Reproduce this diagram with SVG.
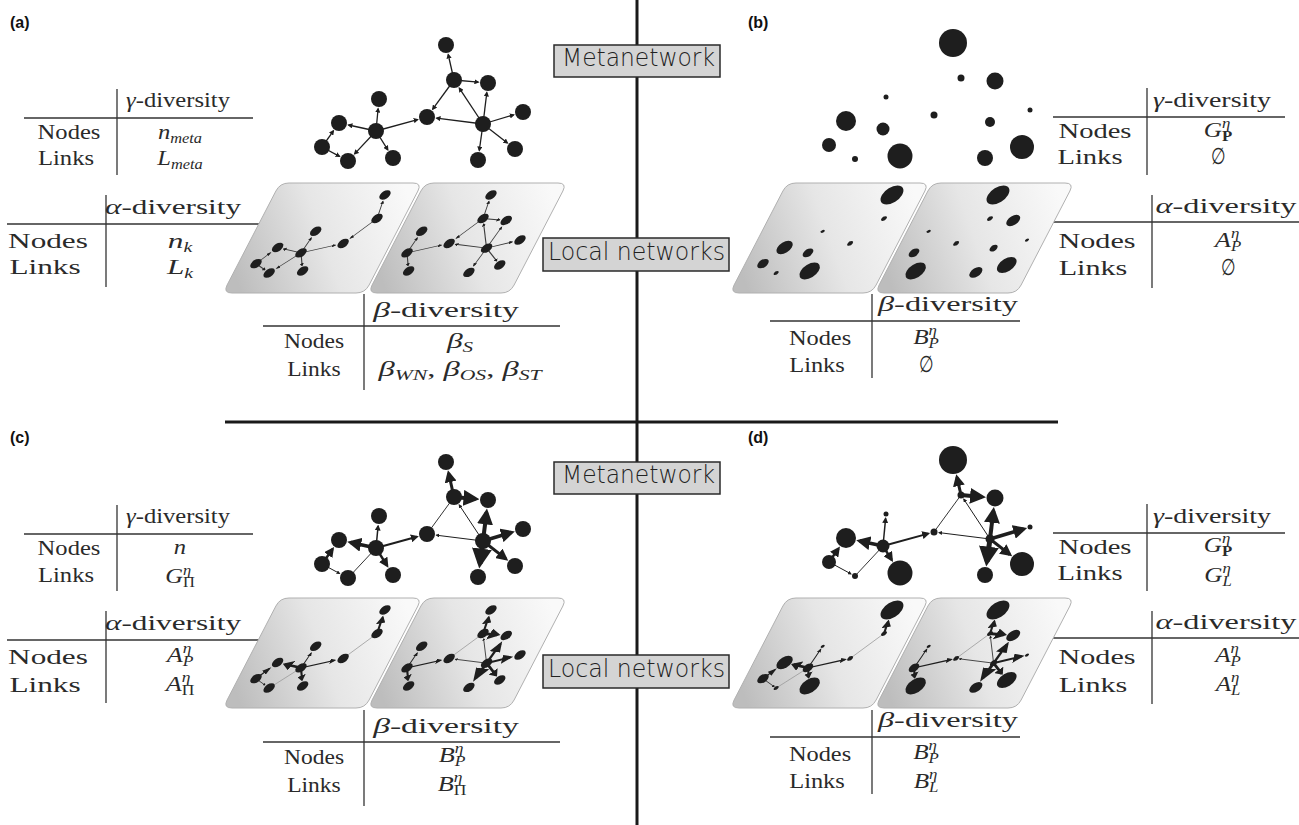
<svg xmlns="http://www.w3.org/2000/svg" xmlns:xlink="http://www.w3.org/1999/xlink" width="1299" height="825" viewBox="0 0 1299 825">
<style>
.ln{stroke:#1e1e1e;fill:none}
.lw{stroke:#3a3a3a;fill:none}
.fa{stroke:#9a9a9a;fill:none}
.nd{fill:#1e1e1e}
.tl{stroke:#333;stroke-width:1.3;fill:none}
.dv{stroke:#1a1a1a;stroke-width:3}
.tb{font-family:"Liberation Serif","DejaVu Serif",serif;font-size:21px;fill:#2a2a2a}
.th{font-size:22px}
.i{font-style:italic}
.sm{font-size:14px}
.lb{font-family:"DejaVu Sans",sans-serif;font-weight:200;fill:#222}
.bx{fill:#d4d4d4;stroke:#2a2a2a;stroke-width:1.5}
.pl{font-family:"Liberation Sans",Arial,sans-serif;font-weight:bold;font-size:16px;fill:#111}
.es{font-family:"DejaVu Serif",serif;font-size:21px;fill:#2a2a2a}
</style>
<defs>
<marker id="ah" viewBox="0 0 10 10" refX="7.5" refY="5" markerWidth="4" markerHeight="4" orient="auto"><path d="M0,0 L10,5 L0,10 Z" fill="#1e1e1e"/></marker>
<linearGradient id="pg" x1="0" y1="0.6" x2="1" y2="0.4"><stop offset="0" stop-color="#bdbdbd"/><stop offset="0.5" stop-color="#e6e6e6"/><stop offset="1" stop-color="#f9f9f9"/></linearGradient>
<path id="plL" d="M289,183 L413,183 Q422,183 417.9,191 L369.1,285 Q365,293 356,293 L232,293 Q223,293 227.1,285 L275.9,191 Q280,183 289,183 Z" fill="url(#pg)" stroke="#b0b0b0" stroke-width="1"/>
<path id="plR" d="M434,183 L558,183 Q567,183 562.9,191 L514.1,285 Q510,293 501,293 L377,293 Q368,293 372.1,285 L420.9,191 Q425,183 434,183 Z" fill="url(#pg)" stroke="#b0b0b0" stroke-width="1"/>
</defs>
<rect width="1299" height="825" fill="#fff"/>

<!-- dividers -->
<line class="dv" x1="637" y1="0" x2="637" y2="825"/>
<line class="dv" x1="225" y1="422" x2="1058" y2="422"/>

<!-- panel labels -->
<text class="pl" x="10" y="28">(a)</text>
<text class="pl" x="748" y="28">(b)</text>
<text class="pl" x="10" y="443">(c)</text>
<text class="pl" x="748" y="443">(d)</text>

<!-- ===== TABLES (a) ===== -->
<g id="tables-a">
<line class="tl" x1="117" y1="89" x2="117" y2="175"/><line class="tl" x1="24" y1="118" x2="253" y2="118"/>
<text class="tb" text-anchor="middle" transform="translate(178,107) scale(1.17,1)"><tspan class="i">γ</tspan>-diversity</text>
<text class="tb" text-anchor="middle" transform="translate(69,139) scale(1.17,1)">Nodes</text>
<text class="tb" text-anchor="middle" transform="translate(66,165) scale(1.17,1)">Links</text>
<text class="tb" text-anchor="middle" transform="translate(180,139) scale(1.17,1)"><tspan class="i">n</tspan><tspan class="i sm" dy="4">meta</tspan></text>
<text class="tb" text-anchor="middle" transform="translate(180,165) scale(1.17,1)"><tspan class="i">L</tspan><tspan class="i sm" dy="4">meta</tspan></text>
<line class="tl" x1="106" y1="195" x2="106" y2="287"/><line class="tl" x1="7" y1="224" x2="262" y2="224"/>
<text class="tb th" text-anchor="middle" transform="translate(173,214) scale(1.42,1)"><tspan class="i">α</tspan>-diversity</text>
<text class="tb th" text-anchor="middle" transform="translate(48,248) scale(1.42,1)">Nodes</text>
<text class="tb th" text-anchor="middle" transform="translate(45,274) scale(1.42,1)">Links</text>
<text class="tb th" text-anchor="middle" transform="translate(180,248) scale(1.42,1)"><tspan class="i">n</tspan><tspan class="i sm" dy="4">k</tspan></text>
<text class="tb th" text-anchor="middle" transform="translate(180,274) scale(1.42,1)"><tspan class="i">L</tspan><tspan class="i sm" dy="4">k</tspan></text>
<line class="tl" x1="364" y1="294" x2="364" y2="390"/><line class="tl" x1="263" y1="326" x2="560" y2="326"/>
<text class="tb th" text-anchor="middle" transform="translate(446,317) scale(1.53,1)"><tspan class="i">β</tspan>-diversity</text>
<text class="tb" text-anchor="middle" transform="translate(314,348) scale(1.12,1)">Nodes</text>
<text class="tb" text-anchor="middle" transform="translate(314,376) scale(1.12,1)">Links</text>
<text class="tb" text-anchor="middle" transform="translate(460,348) scale(1.5,1)"><tspan class="i">β</tspan><tspan class="i sm" dy="4">S</tspan></text>
<text class="tb" text-anchor="middle" transform="translate(460,376) scale(1.55,1)"><tspan class="i">β</tspan><tspan class="i sm" dy="4">WN</tspan><tspan dy="-4">, </tspan><tspan class="i">β</tspan><tspan class="i sm" dy="4">OS</tspan><tspan dy="-4">, </tspan><tspan class="i">β</tspan><tspan class="i sm" dy="4">ST</tspan></text>
</g>

<!-- ===== TABLES (b) ===== -->
<g id="tables-b">
<line class="tl" x1="1147" y1="88" x2="1147" y2="175"/><line class="tl" x1="1053" y1="117" x2="1285" y2="117"/>
<text class="tb" text-anchor="middle" transform="translate(1212,107) scale(1.33,1)"><tspan class="i">γ</tspan>-diversity</text>
<text class="tb" text-anchor="middle" transform="translate(1095,138) scale(1.36,1)">Nodes</text>
<text class="tb" text-anchor="middle" transform="translate(1090,164) scale(1.36,1)">Links</text>
<text class="tb" text-anchor="middle" transform="translate(1218,137) scale(1.2,1)"><tspan class="i">G</tspan><tspan class="i sm" dy="-9">η</tspan><tspan class="sm" font-weight="bold" dx="-7" dy="13">P</tspan></text>
<text class="es" text-anchor="middle" transform="translate(1218,164) scale(0.8,1.1)">∅</text>
<line class="tl" x1="1152" y1="195" x2="1152" y2="288"/><line class="tl" x1="1050" y1="222" x2="1299" y2="222"/>
<text class="tb th" text-anchor="middle" transform="translate(1226,213) scale(1.47,1)"><tspan class="i">α</tspan>-diversity</text>
<text class="tb th" text-anchor="middle" transform="translate(1097,248) scale(1.37,1)">Nodes</text>
<text class="tb th" text-anchor="middle" transform="translate(1093,275) scale(1.37,1)">Links</text>
<text class="tb th" text-anchor="middle" transform="translate(1228,247) scale(1.2,1)"><tspan class="i">A</tspan><tspan class="i sm" dy="-9">η</tspan><tspan class="i sm" dx="-7" dy="13">P</tspan></text>
<text class="es" text-anchor="middle" transform="translate(1228,275) scale(0.8,1.1)">∅</text>
<line class="tl" x1="872" y1="294" x2="872" y2="378"/><line class="tl" x1="770" y1="321" x2="1020" y2="321"/>
<text class="tb th" text-anchor="middle" transform="translate(948,311) scale(1.47,1)"><tspan class="i">β</tspan>-diversity</text>
<text class="tb" text-anchor="middle" transform="translate(820,345) scale(1.16,1)">Nodes</text>
<text class="tb" text-anchor="middle" transform="translate(817,372) scale(1.16,1)">Links</text>
<text class="tb" text-anchor="middle" transform="translate(926,344) scale(1.2,1)"><tspan class="i">B</tspan><tspan class="i sm" dy="-9">η</tspan><tspan class="i sm" dx="-7" dy="13">P</tspan></text>
<text class="es" text-anchor="middle" transform="translate(926,372) scale(0.8,1.1)">∅</text>
</g>

<!-- ===== TABLES (c) ===== -->
<g id="tables-c" transform="translate(0,416)">
<line class="tl" x1="117" y1="89" x2="117" y2="175"/><line class="tl" x1="24" y1="118" x2="253" y2="118"/>
<text class="tb" text-anchor="middle" transform="translate(178,107) scale(1.17,1)"><tspan class="i">γ</tspan>-diversity</text>
<text class="tb" text-anchor="middle" transform="translate(69,139) scale(1.17,1)">Nodes</text>
<text class="tb" text-anchor="middle" transform="translate(66,166) scale(1.17,1)">Links</text>
<text class="tb" text-anchor="middle" transform="translate(180,138) scale(1.17,1)"><tspan class="i">n</tspan></text>
<text class="tb" text-anchor="middle" transform="translate(180,167) scale(1.17,1)"><tspan class="i">G</tspan><tspan class="i sm" dy="-8">η</tspan><tspan class="sm" dx="-7" dy="12">Π</tspan></text>
<line class="tl" x1="106" y1="195" x2="106" y2="287"/><line class="tl" x1="7" y1="224" x2="262" y2="224"/>
<text class="tb th" text-anchor="middle" transform="translate(173,214) scale(1.42,1)"><tspan class="i">α</tspan>-diversity</text>
<text class="tb th" text-anchor="middle" transform="translate(48,248) scale(1.42,1)">Nodes</text>
<text class="tb th" text-anchor="middle" transform="translate(45,276) scale(1.42,1)">Links</text>
<text class="tb" text-anchor="middle" transform="translate(180,246) scale(1.25,1)"><tspan class="i">A</tspan><tspan class="i sm" dy="-9">η</tspan><tspan class="i sm" dx="-7" dy="13">P</tspan></text>
<text class="tb" text-anchor="middle" transform="translate(180,275) scale(1.25,1)"><tspan class="i">A</tspan><tspan class="i sm" dy="-9">η</tspan><tspan class="sm" dx="-7" dy="13">Π</tspan></text>
<line class="tl" x1="364" y1="294" x2="364" y2="390"/><line class="tl" x1="263" y1="326" x2="560" y2="326"/>
<text class="tb th" text-anchor="middle" transform="translate(446,317) scale(1.53,1)"><tspan class="i">β</tspan>-diversity</text>
<text class="tb" text-anchor="middle" transform="translate(314,348) scale(1.12,1)">Nodes</text>
<text class="tb" text-anchor="middle" transform="translate(314,376) scale(1.12,1)">Links</text>
<text class="tb" text-anchor="middle" transform="translate(452,346) scale(1.25,1)"><tspan class="i">B</tspan><tspan class="i sm" dy="-9">η</tspan><tspan class="i sm" dx="-7" dy="13">P</tspan></text>
<text class="tb" text-anchor="middle" transform="translate(452,375) scale(1.25,1)"><tspan class="i">B</tspan><tspan class="i sm" dy="-9">η</tspan><tspan class="sm" dx="-7" dy="13">Π</tspan></text>
</g>

<!-- ===== TABLES (d) ===== -->
<g id="tables-d" transform="translate(0,416)">
<line class="tl" x1="1147" y1="88" x2="1147" y2="175"/><line class="tl" x1="1053" y1="117" x2="1285" y2="117"/>
<text class="tb" text-anchor="middle" transform="translate(1212,107) scale(1.33,1)"><tspan class="i">γ</tspan>-diversity</text>
<text class="tb" text-anchor="middle" transform="translate(1095,138) scale(1.36,1)">Nodes</text>
<text class="tb" text-anchor="middle" transform="translate(1090,164) scale(1.36,1)">Links</text>
<text class="tb" text-anchor="middle" transform="translate(1218,136) scale(1.2,1)"><tspan class="i">G</tspan><tspan class="i sm" dy="-9">η</tspan><tspan class="sm" font-weight="bold" dx="-7" dy="13">P</tspan></text>
<text class="tb" text-anchor="middle" transform="translate(1218,166) scale(1.2,1)"><tspan class="i">G</tspan><tspan class="i sm" dy="-9">η</tspan><tspan class="i sm" dx="-7" dy="13">L</tspan></text>
<line class="tl" x1="1152" y1="195" x2="1152" y2="288"/><line class="tl" x1="1050" y1="222" x2="1299" y2="222"/>
<text class="tb th" text-anchor="middle" transform="translate(1226,213) scale(1.47,1)"><tspan class="i">α</tspan>-diversity</text>
<text class="tb th" text-anchor="middle" transform="translate(1097,248) scale(1.37,1)">Nodes</text>
<text class="tb th" text-anchor="middle" transform="translate(1093,276) scale(1.37,1)">Links</text>
<text class="tb" text-anchor="middle" transform="translate(1228,246) scale(1.2,1)"><tspan class="i">A</tspan><tspan class="i sm" dy="-9">η</tspan><tspan class="i sm" dx="-7" dy="13">P</tspan></text>
<text class="tb" text-anchor="middle" transform="translate(1228,275) scale(1.2,1)"><tspan class="i">A</tspan><tspan class="i sm" dy="-9">η</tspan><tspan class="i sm" dx="-7" dy="13">L</tspan></text>
<line class="tl" x1="872" y1="294" x2="872" y2="378"/><line class="tl" x1="770" y1="321" x2="1020" y2="321"/>
<text class="tb th" text-anchor="middle" transform="translate(948,311) scale(1.47,1)"><tspan class="i">β</tspan>-diversity</text>
<text class="tb" text-anchor="middle" transform="translate(820,345) scale(1.16,1)">Nodes</text>
<text class="tb" text-anchor="middle" transform="translate(817,372) scale(1.16,1)">Links</text>
<text class="tb" text-anchor="middle" transform="translate(926,343) scale(1.2,1)"><tspan class="i">B</tspan><tspan class="i sm" dy="-9">η</tspan><tspan class="i sm" dx="-7" dy="13">P</tspan></text>
<text class="tb" text-anchor="middle" transform="translate(926,372) scale(1.2,1)"><tspan class="i">B</tspan><tspan class="i sm" dy="-9">η</tspan><tspan class="i sm" dx="-7" dy="13">L</tspan></text>
</g>

<!-- ===== PLANES ===== -->
<g id="planes">
<use xlink:href="#plL"/><use xlink:href="#plR"/>
<use xlink:href="#plL" transform="translate(507,0)"/><use xlink:href="#plR" transform="translate(507,0)"/>
<use xlink:href="#plL" transform="translate(0,415)"/><use xlink:href="#plR" transform="translate(0,415)"/>
<use xlink:href="#plL" transform="translate(507,415)"/><use xlink:href="#plR" transform="translate(507,415)"/>
</g>

<!-- ===== LOCAL NETWORKS (a) ===== -->
<g id="a-local-1" transform="matrix(0.718 0 -0.392 0.673 82.4 164.7)">
<g class="lw" stroke-width="1.3" marker-end="url(#ah)">
<line x1="454" y1="80" x2="448.2" y2="54.5"/><line x1="454" y1="80" x2="432.7" y2="109.2"/>
<line x1="376" y1="131" x2="417.6" y2="119.6"/><line x1="376" y1="131" x2="378.1" y2="108.7"/><line x1="376" y1="131" x2="348.5" y2="125"/>
<line x1="376" y1="131" x2="354.6" y2="153.9"/><line x1="376" y1="131" x2="387.8" y2="149.8"/>
<line x1="322" y1="147" x2="333.4" y2="130.9"/><line x1="322" y1="147" x2="339.5" y2="156.4"/>
</g>
<g class="nd"><circle cx="446" cy="45" r="7"/><circle cx="454" cy="80" r="7"/><circle cx="427" cy="117" r="7"/><circle cx="376" cy="131" r="7"/><circle cx="379" cy="99" r="7"/><circle cx="339" cy="123" r="7"/><circle cx="322" cy="147" r="7"/><circle cx="348" cy="161" r="7"/><circle cx="393" cy="158" r="7"/></g>
</g>
<g id="a-local-2" transform="matrix(0.718 0 -0.392 0.673 188.4 164.7)">
<g class="lw" stroke-width="1.3" marker-end="url(#ah)">
<line x1="454" y1="80" x2="448.2" y2="54.5"/><line x1="454" y1="80" x2="478.3" y2="82.1"/><line x1="454" y1="80" x2="432.7" y2="109.2"/>
<line x1="483" y1="124" x2="459.3" y2="88.1"/><line x1="483" y1="124" x2="486.8" y2="92.6"/><line x1="483" y1="124" x2="436.6" y2="118.2"/>
<line x1="483" y1="124" x2="513.7" y2="114.8"/><line x1="483" y1="124" x2="507.4" y2="143"/><line x1="483" y1="124" x2="479.3" y2="150.4"/>
<line x1="376" y1="131" x2="417.6" y2="119.6"/><line x1="376" y1="131" x2="378.1" y2="108.7"/><line x1="376" y1="131" x2="387.8" y2="149.8"/>
</g>
<g class="nd"><circle cx="446" cy="45" r="7"/><circle cx="454" cy="80" r="7"/><circle cx="488" cy="83" r="7"/><circle cx="427" cy="117" r="7"/><circle cx="483" cy="124" r="7"/><circle cx="523" cy="112" r="7"/><circle cx="515" cy="149" r="7"/><circle cx="478" cy="160" r="7"/><circle cx="376" cy="131" r="7"/><circle cx="379" cy="99" r="7"/><circle cx="393" cy="158" r="7"/></g>
</g>

<!-- ===== LOCAL NETWORKS (b) ===== -->
<g id="b-local-1" class="nd" transform="matrix(0.718 0 -0.392 0.673 589.4 164.7)">
<circle cx="446" cy="45" r="14"/><circle cx="454" cy="80" r="3.5"/><circle cx="427" cy="117" r="3.5"/><circle cx="376" cy="131" r="6.5"/><circle cx="379" cy="99" r="2.5"/><circle cx="339" cy="123" r="10"/><circle cx="322" cy="147" r="7"/><circle cx="348" cy="161" r="3"/><circle cx="393" cy="158" r="12.5"/>
</g>
<g id="b-local-2" class="nd" transform="matrix(0.718 0 -0.392 0.673 695.4 164.7)">
<circle cx="446" cy="45" r="14"/><circle cx="454" cy="80" r="3.5"/><circle cx="488" cy="83" r="8.5"/><circle cx="427" cy="117" r="3.5"/><circle cx="483" cy="124" r="5"/><circle cx="523" cy="112" r="2.5"/><circle cx="515" cy="149" r="12"/><circle cx="478" cy="160" r="8"/><circle cx="376" cy="131" r="6.5"/><circle cx="379" cy="99" r="2.5"/><circle cx="393" cy="158" r="12.5"/>
</g>

<!-- ===== LOCAL NETWORKS (c) ===== -->
<g id="c-local-1" transform="matrix(0.718 0 -0.392 0.673 82.4 579.7)">
<g class="ln" marker-end="url(#ah)">
<line x1="454" y1="80" x2="448.6" y2="56.2" stroke-width="3"/>
<line x1="376" y1="131" x2="416.9" y2="119.8" stroke-width="2"/><line x1="376" y1="131" x2="378.1" y2="109" stroke-width="1.5"/>
<line x1="376" y1="131" x2="350.7" y2="125.5" stroke-width="3.5"/><line x1="376" y1="131" x2="387.1" y2="148.7" stroke-width="2.5"/>
<line x1="322" y1="147" x2="332.6" y2="132" stroke-width="2.5"/><line x1="322" y1="147" x2="339.6" y2="156.5" stroke-width="1"/>
</g>
<line class="fa" x1="454" y1="80" x2="427" y2="117" stroke-width="1"/><line class="fa" x1="376" y1="131" x2="348" y2="161" stroke-width="1"/>
<g class="nd"><circle cx="446" cy="45" r="7"/><circle cx="454" cy="80" r="7"/><circle cx="427" cy="117" r="7"/><circle cx="376" cy="131" r="7"/><circle cx="379" cy="99" r="7"/><circle cx="339" cy="123" r="7"/><circle cx="322" cy="147" r="7"/><circle cx="348" cy="161" r="7"/><circle cx="393" cy="158" r="7"/></g>
</g>
<g id="c-local-2" transform="matrix(0.718 0 -0.392 0.673 188.4 579.7)">
<g class="ln" marker-end="url(#ah)">
<line x1="454" y1="80" x2="448.6" y2="56.2" stroke-width="3"/><line x1="454" y1="80" x2="475.5" y2="81.9" stroke-width="4"/>
<line x1="483" y1="124" x2="459.2" y2="87.9" stroke-width="1"/><line x1="483" y1="124" x2="486.5" y2="95.4" stroke-width="4"/><line x1="483" y1="124" x2="436.4" y2="118.2" stroke-width="1"/>
<line x1="483" y1="124" x2="511.5" y2="115.4" stroke-width="3.5"/><line x1="483" y1="124" x2="505.9" y2="141.9" stroke-width="3"/><line x1="483" y1="124" x2="479.9" y2="146.6" stroke-width="5"/>
<line x1="376" y1="131" x2="416.9" y2="119.8" stroke-width="2"/><line x1="376" y1="131" x2="378.1" y2="109" stroke-width="1.5"/><line x1="376" y1="131" x2="387.1" y2="148.7" stroke-width="2.5"/>
</g>
<line class="fa" x1="454" y1="80" x2="427" y2="117" stroke-width="1"/>
<g class="nd"><circle cx="446" cy="45" r="7"/><circle cx="454" cy="80" r="7"/><circle cx="488" cy="83" r="7"/><circle cx="427" cy="117" r="7"/><circle cx="483" cy="124" r="7"/><circle cx="523" cy="112" r="7"/><circle cx="515" cy="149" r="7"/><circle cx="478" cy="160" r="7"/><circle cx="376" cy="131" r="7"/><circle cx="379" cy="99" r="7"/><circle cx="393" cy="158" r="7"/></g>
</g>

<!-- ===== LOCAL NETWORKS (d) ===== -->
<g id="d-local-1" transform="matrix(0.718 0 -0.392 0.673 589.4 579.7)">
<g class="ln" marker-end="url(#ah)">
<line x1="454" y1="80" x2="449.9" y2="62.1" stroke-width="3"/>
<line x1="376" y1="131" x2="421.2" y2="118.6" stroke-width="2"/><line x1="376" y1="131" x2="378.6" y2="103.5" stroke-width="1.5"/>
<line x1="376" y1="131" x2="352.7" y2="126" stroke-width="3.5"/><line x1="376" y1="131" x2="384.7" y2="144.9" stroke-width="2.5"/>
<line x1="322" y1="147" x2="331.5" y2="133.6" stroke-width="2.5"/><line x1="322" y1="147" x2="344" y2="158.9" stroke-width="1"/>
</g>
<line class="fa" x1="454" y1="80" x2="427" y2="117" stroke-width="1"/><line class="fa" x1="376" y1="131" x2="348" y2="161" stroke-width="1"/>
<g class="nd"><circle cx="446" cy="45" r="14"/><circle cx="454" cy="80" r="3.5"/><circle cx="427" cy="117" r="3.5"/><circle cx="376" cy="131" r="6.5"/><circle cx="379" cy="99" r="2.5"/><circle cx="339" cy="123" r="10"/><circle cx="322" cy="147" r="7"/><circle cx="348" cy="161" r="3"/><circle cx="393" cy="158" r="12.5"/></g>
</g>
<g id="d-local-2" transform="matrix(0.718 0 -0.392 0.673 695.4 579.7)">
<g class="ln" marker-end="url(#ah)">
<line x1="454" y1="80" x2="449.9" y2="62.1" stroke-width="3"/><line x1="454" y1="80" x2="475" y2="81.9" stroke-width="4"/>
<line x1="483" y1="124" x2="456.8" y2="84.2" stroke-width="1"/><line x1="483" y1="124" x2="486.4" y2="95.9" stroke-width="4"/><line x1="483" y1="124" x2="432" y2="117.6" stroke-width="1"/>
<line x1="483" y1="124" x2="516.8" y2="113.9" stroke-width="3.5"/><line x1="483" y1="124" x2="502.8" y2="139.5" stroke-width="3"/><line x1="483" y1="124" x2="479.9" y2="146.6" stroke-width="5"/>
<line x1="376" y1="131" x2="421.2" y2="118.6" stroke-width="2"/><line x1="376" y1="131" x2="378.6" y2="103.5" stroke-width="1.5"/><line x1="376" y1="131" x2="384.7" y2="144.9" stroke-width="2.5"/>
</g>
<line class="fa" x1="454" y1="80" x2="427" y2="117" stroke-width="1"/>
<g class="nd"><circle cx="446" cy="45" r="14"/><circle cx="454" cy="80" r="3.5"/><circle cx="488" cy="83" r="8.5"/><circle cx="427" cy="117" r="3.5"/><circle cx="483" cy="124" r="4.5"/><circle cx="523" cy="112" r="2.5"/><circle cx="515" cy="149" r="12"/><circle cx="478" cy="160" r="8"/><circle cx="376" cy="131" r="6.5"/><circle cx="379" cy="99" r="2.5"/><circle cx="393" cy="158" r="12.5"/></g>
</g>

<!-- ===== METANETWORK (a) ===== -->
<g id="a-links" class="ln" stroke-width="1.3" marker-end="url(#ah)">
<line x1="454" y1="80" x2="448.2" y2="54.5"/><line x1="454" y1="80" x2="478.3" y2="82.1"/><line x1="454" y1="80" x2="432.7" y2="109.2"/>
<line x1="483" y1="124" x2="459.3" y2="88.1"/><line x1="483" y1="124" x2="486.8" y2="92.6"/><line x1="483" y1="124" x2="436.6" y2="118.2"/>
<line x1="483" y1="124" x2="513.7" y2="114.8"/><line x1="483" y1="124" x2="507.4" y2="143"/><line x1="483" y1="124" x2="479.3" y2="150.4"/>
<line x1="376" y1="131" x2="417.6" y2="119.6"/><line x1="376" y1="131" x2="378.1" y2="108.7"/><line x1="376" y1="131" x2="348.5" y2="125"/>
<line x1="376" y1="131" x2="354.6" y2="153.9"/><line x1="376" y1="131" x2="387.8" y2="149.8"/>
<line x1="322" y1="147" x2="333.4" y2="130.9"/><line x1="322" y1="147" x2="339.5" y2="156.4"/>
</g>
<g class="nd">
<g id="a-n1"><circle cx="446" cy="45" r="8"/></g><g id="a-n2"><circle cx="454" cy="80" r="8"/></g><g id="a-n3"><circle cx="488" cy="83" r="8"/></g>
<g id="a-n4"><circle cx="427" cy="117" r="8"/></g><g id="a-n5"><circle cx="483" cy="124" r="8"/></g><g id="a-n6"><circle cx="523" cy="112" r="8"/></g>
<g id="a-n7"><circle cx="515" cy="149" r="8"/></g><g id="a-n8"><circle cx="478" cy="160" r="8"/></g><g id="a-n9"><circle cx="376" cy="131" r="8"/></g>
<g id="a-n10"><circle cx="379" cy="99" r="8"/></g><g id="a-n11"><circle cx="339" cy="123" r="8"/></g><g id="a-n12"><circle cx="322" cy="147" r="8"/></g>
<g id="a-n13"><circle cx="348" cy="161" r="8"/></g><g id="a-n14"><circle cx="393" cy="158" r="8"/></g>
</g>

<!-- ===== METANETWORK (b) ===== -->
<g class="nd" transform="translate(507,-2)">
<g id="b-n1"><circle cx="446" cy="45" r="14"/></g><g id="b-n2"><circle cx="454" cy="80" r="3.5"/></g><g id="b-n3"><circle cx="488" cy="83" r="8.5"/></g>
<g id="b-n4"><circle cx="427" cy="117" r="3.5"/></g><g id="b-n5"><circle cx="483" cy="124" r="5"/></g><g id="b-n6"><circle cx="523" cy="112" r="2.5"/></g>
<g id="b-n7"><circle cx="515" cy="149" r="12"/></g><g id="b-n8"><circle cx="478" cy="160" r="8"/></g><g id="b-n9"><circle cx="376" cy="131" r="6.5"/></g>
<g id="b-n10"><circle cx="379" cy="99" r="2.5"/></g><g id="b-n11"><circle cx="339" cy="123" r="10"/></g><g id="b-n12"><circle cx="322" cy="147" r="7"/></g>
<g id="b-n13"><circle cx="348" cy="161" r="3"/></g><g id="b-n14"><circle cx="393" cy="158" r="12.5"/></g>
</g>

<!-- ===== METANETWORK (c) ===== -->
<g transform="translate(0,417)">
<g id="c-links" class="ln">
<g marker-end="url(#ah)">
<line x1="454" y1="80" x2="448.6" y2="56.2" stroke-width="3"/><line x1="454" y1="80" x2="475.5" y2="81.9" stroke-width="4"/>
<line x1="483" y1="124" x2="459.2" y2="87.9" stroke-width="1"/><line x1="483" y1="124" x2="486.5" y2="95.4" stroke-width="4"/><line x1="483" y1="124" x2="436.4" y2="118.2" stroke-width="1"/>
<line x1="483" y1="124" x2="511.5" y2="115.4" stroke-width="3.5"/><line x1="483" y1="124" x2="505.9" y2="141.9" stroke-width="3"/><line x1="483" y1="124" x2="479.9" y2="146.6" stroke-width="5"/>
<line x1="376" y1="131" x2="416.9" y2="119.8" stroke-width="2"/><line x1="376" y1="131" x2="378.1" y2="109" stroke-width="1.5"/><line x1="376" y1="131" x2="350.7" y2="125.5" stroke-width="3.5"/>
<line x1="376" y1="131" x2="387.1" y2="148.7" stroke-width="2.5"/><line x1="322" y1="147" x2="332.6" y2="132" stroke-width="2.5"/><line x1="322" y1="147" x2="339.6" y2="156.5" stroke-width="1"/>
</g>
<line x1="454" y1="80" x2="427" y2="117" stroke-width="0.9"/><line x1="376" y1="131" x2="348" y2="161" stroke-width="0.9"/>
</g>
<g class="nd">
<g id="c-n1"><circle cx="446" cy="45" r="8"/></g><g id="c-n2"><circle cx="454" cy="80" r="8"/></g><g id="c-n3"><circle cx="488" cy="83" r="8"/></g>
<g id="c-n4"><circle cx="427" cy="117" r="8"/></g><g id="c-n5"><circle cx="483" cy="124" r="8"/></g><g id="c-n6"><circle cx="523" cy="112" r="8"/></g>
<g id="c-n7"><circle cx="515" cy="149" r="8"/></g><g id="c-n8"><circle cx="478" cy="160" r="8"/></g><g id="c-n9"><circle cx="376" cy="131" r="8"/></g>
<g id="c-n10"><circle cx="379" cy="99" r="8"/></g><g id="c-n11"><circle cx="339" cy="123" r="8"/></g><g id="c-n12"><circle cx="322" cy="147" r="8"/></g>
<g id="c-n13"><circle cx="348" cy="161" r="8"/></g><g id="c-n14"><circle cx="393" cy="158" r="8"/></g>
</g>
</g>

<!-- ===== METANETWORK (d) ===== -->
<g transform="translate(507,415)">
<g id="d-links" class="ln">
<g marker-end="url(#ah)">
<line x1="454" y1="80" x2="449.9" y2="62.1" stroke-width="3"/><line x1="454" y1="80" x2="475" y2="81.9" stroke-width="4"/>
<line x1="483" y1="124" x2="456.8" y2="84.2" stroke-width="1"/><line x1="483" y1="124" x2="486.4" y2="95.9" stroke-width="4"/><line x1="483" y1="124" x2="432" y2="117.6" stroke-width="1"/>
<line x1="483" y1="124" x2="516.8" y2="113.9" stroke-width="3.5"/><line x1="483" y1="124" x2="502.8" y2="139.5" stroke-width="3"/><line x1="483" y1="124" x2="479.9" y2="146.6" stroke-width="5"/>
<line x1="376" y1="131" x2="421.2" y2="118.6" stroke-width="2"/><line x1="376" y1="131" x2="378.6" y2="103.5" stroke-width="1.5"/><line x1="376" y1="131" x2="352.7" y2="126" stroke-width="3.5"/>
<line x1="376" y1="131" x2="384.7" y2="144.9" stroke-width="2.5"/><line x1="322" y1="147" x2="331.5" y2="133.6" stroke-width="2.5"/><line x1="322" y1="147" x2="344" y2="158.9" stroke-width="1"/>
</g>
<line x1="454" y1="80" x2="427" y2="117" stroke-width="0.9"/><line x1="376" y1="131" x2="348" y2="161" stroke-width="0.9"/>
</g>
<g class="nd">
<g id="d-n1"><circle cx="446" cy="45" r="14"/></g><g id="d-n2"><circle cx="454" cy="80" r="3.5"/></g><g id="d-n3"><circle cx="488" cy="83" r="8.5"/></g>
<g id="d-n4"><circle cx="427" cy="117" r="3.5"/></g><g id="d-n5"><circle cx="483" cy="124" r="4.5"/></g><g id="d-n6"><circle cx="523" cy="112" r="2.5"/></g>
<g id="d-n7"><circle cx="515" cy="149" r="12"/></g><g id="d-n8"><circle cx="478" cy="160" r="8"/></g><g id="d-n9"><circle cx="376" cy="131" r="6.5"/></g>
<g id="d-n10"><circle cx="379" cy="99" r="2.5"/></g><g id="d-n11"><circle cx="339" cy="123" r="10"/></g><g id="d-n12"><circle cx="322" cy="147" r="7"/></g>
<g id="d-n13"><circle cx="348" cy="161" r="3"/></g><g id="d-n14"><circle cx="393" cy="158" r="12.5"/></g>
</g>
</g>

<!-- ===== LEVEL LABELS ===== -->
<g id="label-meta-top"><rect class="bx" x="554" y="45" width="166" height="32"/><text class="lb" x="562" y="66" font-size="25" textLength="153" lengthAdjust="spacingAndGlyphs">Metanetwork</text></g>
<g id="label-local-top"><rect class="bx" x="543" y="238" width="186" height="33"/><text class="lb" x="548" y="260" font-size="24" textLength="177" lengthAdjust="spacingAndGlyphs">Local networks</text></g>
<g id="label-meta-bottom"><rect class="bx" x="554" y="462" width="166" height="32"/><text class="lb" x="562" y="483" font-size="25" textLength="153" lengthAdjust="spacingAndGlyphs">Metanetwork</text></g>
<g id="label-local-bottom"><rect class="bx" x="543" y="655" width="186" height="33"/><text class="lb" x="548" y="677" font-size="24" textLength="177" lengthAdjust="spacingAndGlyphs">Local networks</text></g>
</svg>
